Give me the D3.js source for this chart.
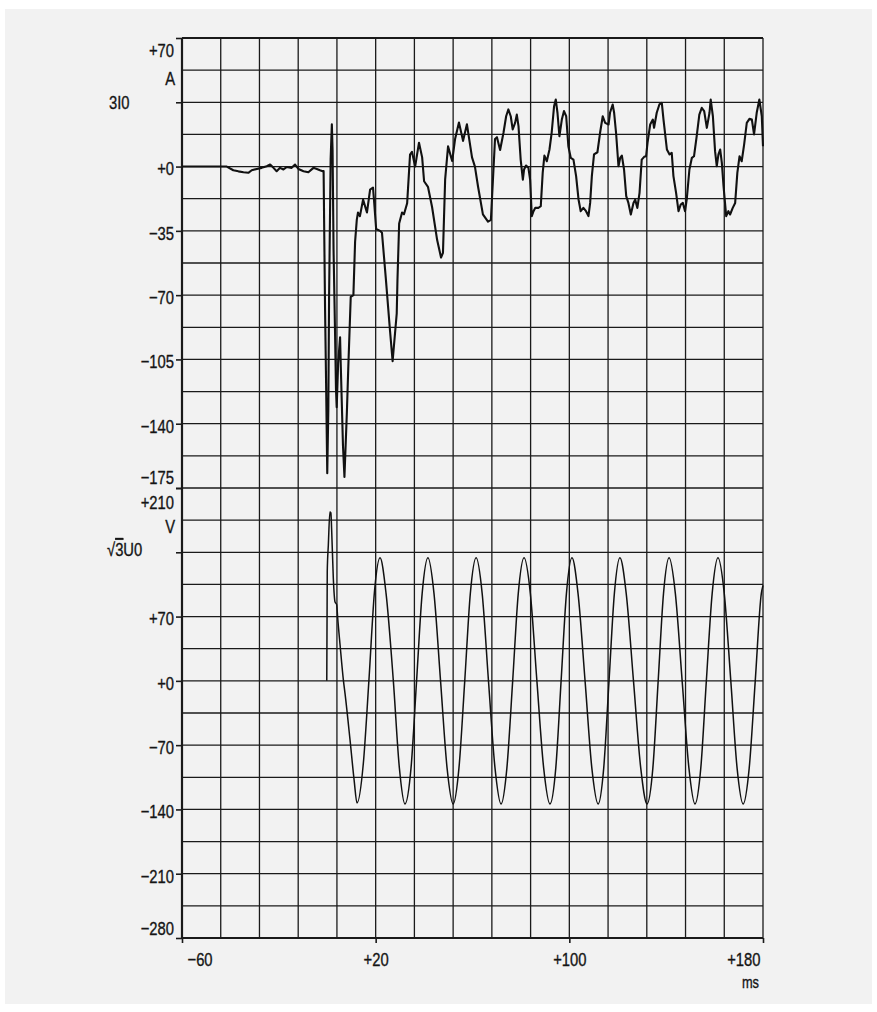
<!DOCTYPE html>
<html>
<head>
<meta charset="utf-8">
<script src="https://cdn.jsdelivr.net/npm/d3@7"></script>
<style>
  body { margin: 0; background: #fff; }
  text { font-family: "Liberation Sans", Arial, sans-serif; fill: #151515; stroke: #151515; stroke-width: 0.35px; }
</style>
</head>
<body>
<svg id="chart" width="877" height="1012"></svg>
<script>
// time in ms, current in A (3I0), voltage in V (sqrt3 U0)
const currentTime = [
  -60, -41.5, -38.8, -36.7, -34.6, -32.6, -31.2, -29.1, -27.1, -25.0, -23.6, -22.2, -20.9, -19.5,
  -18.1, -16.7, -14.7, -13.3, -11.9, -9.8, -7.8, -5.7, -4.3, -3.0, -1.9, -1.5,
  -1.3, -0.9, -0.5, 0.0, 0.45, 0.75, 1.4, 1.9, 2.2, 2.6, 3.2, 3.6, 3.9, 4.5, 5.3, 5.6, 6.5, 7.1,
  8.1, 8.7, 9.7, 10.8, 11.5, 12.2, 12.7, 13.5, 14.8, 16.4, 17.7, 18.9, 19.3, 20.2, 21.8, 22.6,
  24.2, 25.9, 27.0, 28.7, 29.0, 29.7, 30.9, 31.7, 33.0, 34.2, 35.0, 36.3, 37.9, 39.2, 40.0, 41.6,
  43.3, 45.4, 47.0, 47.8, 48.7, 49.9, 51.6, 52.8, 54.4, 56.1, 57.7, 59.8, 61.0, 62.3, 64.3, 66.4,
  67.6, 69.3, 70.1, 71.4, 72.8, 73.9, 74.8, 75.8, 76.6, 77.6, 78.3, 79.0, 79.9, 80.8, 81.3, 82.1,
  83.1, 83.8, 84.5, 85.2, 85.9, 87.2, 88.2, 89.0, 89.7, 90.7, 91.8, 92.7, 93.7, 94.4, 95.1, 95.9,
  96.9, 97.8, 98.7, 99.6, 100.6, 101.7, 102.8, 103.8, 104.7, 105.8, 106.9, 107.9, 108.6, 109.3,
  110.2, 111.6, 112.7, 113.8, 114.8, 116.2, 116.8, 117.9, 118.5, 119.3, 120.3, 121.0, 121.7, 122.6,
  123.5, 124.4, 125.4, 126.5, 127.2, 128.1, 129.0, 129.9, 130.9, 131.7, 132.3, 133.4, 134.5, 135.0,
  136.1, 137.2, 138.2, 138.9, 140.3, 141.4, 142.3, 143.0, 144.1, 145.1, 146.0, 146.9, 147.8, 148.5,
  149.6, 150.6, 151.5, 152.6, 153.7, 154.7, 155.7, 156.8, 157.9, 158.4, 159.3, 160.2, 160.9, 161.6,
  162.3, 163.0, 163.7, 164.8, 165.7, 166.4, 167.5, 168.5, 169.4, 170.3, 171.2, 172.2, 173.3, 174.4,
  175.4, 176.3, 177.4, 178.5, 179.5, 180.0
];
const currentValue = [
  0, 0, -2.0, -2.6, -3.1, -3.4, -2.0, -1.3, -0.7, 0.2, 1.1, -0.7, -2.5, -0.7,
  -1.6, -0.2, -0.7, 1.1, -1.3, -2.5, -3.1, -0.7, -1.3, -2.0, -2.5, -2.5,
  -29, -78, -116, -167, -132, -72, 4, 23, 9, -45, -89, -121, -131, -107, -93, -109, -152, -169,
  -134, -109, -71, -70, -41, -29, -25, -27, -18, -25, -12.5, -11.4, -18, -34, -35, -36,
  -61, -89, -106, -80, -62, -31, -25, -26, -20, 6.5, 8, 0, 13, 5, -8, -11,
  -22, -40, -49.5, -47, -7, 11, 3, 15, 24, 14, 23, 5, 0, -11, -26, -30,
  -29, 15, 16, 9, 18.4, 27.4, 31.1, 27.4, 20.2, 23.8, 28.3, 22.0, 3.8, -7.1, -1.6, 0.6,
  -0.7, -7.1, -27.0, -24.3, -22.5, -22.5, -21.6, -3.4, 6.0, 2.9, 9.3, 18.4, 32.9, 36.5, 29.3, 16.5,
  25.6, 30.2, 27.4, 11.1, 4.7, 3.8, -5.2, -17.9, -24.3, -22.5, -24.3, -27.0, -19.8, -5.2,
  6.6, 7.8, 18.4, 27.4, 23.8, 22.9, 29.3, 33.8, 29.3, 18.4, 0.2, 4.7, 6.0, -1.6,
  -16.1, -19.8, -26.1, -19.8, -18.0, -22.5, -14.3, 3.8, 5.3, 5.6, 12.9, 22.9, 25.6, 21.1,
  29.3, 33.8, 34.7, 25.6, 9.3, 6.6, 7.5, -5.2, -14.3, -24.3, -20.7, -19.8, -24.3, -17.9,
  -1.6, 4.7, 5.6, 16.5, 28.3, 32.0, 30.2, 21.1, 29.3, 36.5, 27.4, 8.4, 0.2, 6.6,
  9.3, 2.0, -10.7, -27.0, -24.3, -26.1, -22.5, -19.8, -3.4, 5.6, 2.9, 12.0, 23.8, 26.0,
  25.6, 17.5, 29.3, 36.5, 27.4, 11.1
];
const voltageTime = [
  -0.2, 0.0, 0.45, 1.1, 1.5, 1.8, 2.5, 3.2, 3.9, 4.3, 5.3, 6.7, 7.4, 9.4, 11.1, 12.3,
  14.9, 17.2, 19.6, 21.8, 24.3, 27.3, 29.8, 32.1,
  34.6, 36.9, 39.2, 41.6, 44.1, 46.8, 49.5, 52.0,
  54.4, 56.8, 59.1, 61.5, 64.0, 66.6, 69.3, 71.8,
  74.2, 76.6, 78.9, 81.3, 83.9, 86.6, 89.4, 92.0,
  94.4, 96.6, 98.8, 101.1, 103.6, 106.5, 109.3, 111.9,
  114.2, 116.4, 118.6, 120.9, 123.5, 126.5, 129.5, 132.1,
  134.5, 136.7, 138.9, 141.2, 143.8, 146.6, 149.4, 151.9,
  154.3, 156.6, 159.0, 161.4, 164.0, 166.7, 169.3, 171.8,
  174.3, 176.8, 179.3, 180.0
];
const voltageValue = [
  0, 119, 148, 184, 183, 166, 112, 86, 83, 69, 39, 0, -15, -64, -108, -133,
  -90, 0, 100, 134, 95, 0, -95, -134,
  -95, 0, 95, 134, 95, 0, -95, -134,
  -95, 0, 95, 134, 95, 0, -95, -134,
  -95, 0, 95, 134, 95, 0, -95, -134,
  -95, 0, 95, 134, 95, 0, -95, -134,
  -95, 0, 95, 134, 95, 0, -95, -134,
  -95, 0, 95, 134, 95, 0, -95, -134,
  -95, 0, 95, 134, 95, 0, -95, -134,
  -95, 0, 95, 104
];
const timeTicks = [-60, 20, 100, 180];
const currentTicks = [70, 35, 0, -35, -70, -105, -140, -175];
const voltageTicks = [210, 140, 70, 0, -70, -140, -210, -280];

const svg = d3.select("#chart");

svg.append("rect")
  .attr("x", 5).attr("y", 9).attr("width", 867).attr("height", 995)
  .attr("fill", "#f2f2f2");

const x = d3.scaleLinear().domain([-60, 180]).range([182, 763]);
const yTop = d3.scaleLinear().domain([-175, 70]).range([488, 38]);
const yBot = d3.scaleLinear().domain([-280, 210]).range([938, 488]);

// grid
const grid = svg.append("g").attr("stroke", "#1a1a1a").attr("stroke-width", 1.3);
grid.selectAll("line.v")
  .data(d3.range(-60, 181, 16))
  .enter().append("line")
  .attr("x1", (d) => x(d)).attr("x2", (d) => x(d))
  .attr("y1", yTop(70)).attr("y2", yBot(-280))
  .attr("stroke-width", (d) => (d === -60 ? 2.2 : 1.3));
grid.selectAll("line.ht")
  .data(d3.range(-175, 71, 17.5))
  .enter().append("line")
  .attr("x1", x(-60)).attr("x2", x(180))
  .attr("y1", (d) => yTop(d)).attr("y2", (d) => yTop(d))
  .attr("stroke-width", (d) => (d === 70 ? 2 : 1.3));
grid.selectAll("line.hb")
  .data(d3.range(-280, 176, 35))
  .enter().append("line")
  .attr("x1", x(-60)).attr("x2", x(180))
  .attr("y1", (d) => yBot(d)).attr("y2", (d) => yBot(d))
  .attr("stroke-width", (d) => (d === -280 ? 1.8 : 1.3));

const sign = (v) => (v > 0 ? "+" + v : v < 0 ? "\u2212" + Math.abs(v) : "+0");

function styleAxis(g, shifts) {
  g.select(".domain").remove();
  g.selectAll(".tick line").attr("stroke", "#1a1a1a").attr("stroke-width", 1.6);
  g.selectAll(".tick text")
    .attr("font-size", 18.5)
    .attr("fill", "#151515")
    .attr("dy", (d) => (shifts[d] !== undefined ? shifts[d] : "0.45em"));
}

svg.append("g")
  .attr("transform", `translate(${x(-60)},0)`)
  .call(d3.axisLeft(yTop).tickValues(currentTicks).tickSize(6).tickPadding(2)
    .tickFormat((d) => (d === 35 ? "" : sign(d))))
  .call((g) => styleAxis(g, { 70: "1.02em", "-175": "-0.25em" }));

svg.append("g")
  .attr("transform", `translate(${x(-60)},0)`)
  .call(d3.axisLeft(yBot).tickValues(voltageTicks).tickSize(6).tickPadding(2)
    .tickFormat((d) => (d === 140 ? "" : sign(d))))
  .call((g) => styleAxis(g, { 210: "1.1em", "-280": "-0.18em" }));

const xAxis = svg.append("g")
  .attr("transform", `translate(0,${yBot(-280)})`)
  .call(d3.axisBottom(x).tickValues(timeTicks).tickSize(5).tickPadding(10).tickFormat(sign));
xAxis.select(".domain").remove();
xAxis.selectAll(".tick line").attr("stroke", "#1a1a1a").attr("stroke-width", 1.6);
xAxis.selectAll(".tick text")
  .attr("font-size", 18.5)
  .attr("fill", "#151515")
  .attr("text-anchor", (d) => (d === -60 ? "start" : d === 180 ? "end" : "middle"))
  .attr("dx", (d) => (d === -60 ? 5 : d === 180 ? -3 : 0));

// unit and channel labels
svg.append("text").attr("x", 175).attr("y", yTop(52.5) + 15)
  .attr("text-anchor", "end").attr("font-size", 18.5).text("A");
svg.append("text").attr("x", 175).attr("y", yBot(175) + 13)
  .attr("text-anchor", "end").attr("font-size", 18.5).text("V");
svg.append("text").attr("x", 759).attr("y", 988)
  .attr("text-anchor", "end").attr("font-size", 16).text("ms");
svg.append("text").attr("x", 109).attr("y", 109)
  .attr("font-size", 18.5).text("3I0");
const u0 = svg.append("text").attr("x", 107).attr("y", 556).attr("font-size", 18.5);
u0.append("tspan").text("\u221A");
u0.append("tspan").attr("text-decoration", "overline").text("3");
u0.append("tspan").text("U0");

// squeeze text to the narrow plotter lettering
svg.selectAll("text").each(function () {
  const w = this.getComputedTextLength();
  if (w > 0) {
    d3.select(this).attr("textLength", w * 0.8).attr("lengthAdjust", "spacingAndGlyphs");
  }
});

// traces
const current = currentTime.map((t, i) => [t, currentValue[i]]);
const voltage = voltageTime.map((t, i) => [t, voltageValue[i]]);

svg.append("path")
  .datum(current)
  .attr("fill", "none")
  .attr("stroke", "#111")
  .attr("stroke-width", 2.1)
  .attr("stroke-linejoin", "round")
  .attr("d", d3.line().x((d) => x(d[0])).y((d) => yTop(d[1])));

svg.append("path")
  .datum(voltage)
  .attr("fill", "none")
  .attr("stroke", "#111")
  .attr("stroke-width", 1.5)
  .attr("stroke-linejoin", "round")
  .attr("d", d3.line().curve(d3.curveMonotoneX).x((d) => x(d[0])).y((d) => yBot(d[1])));
</script>
</body>
</html>
